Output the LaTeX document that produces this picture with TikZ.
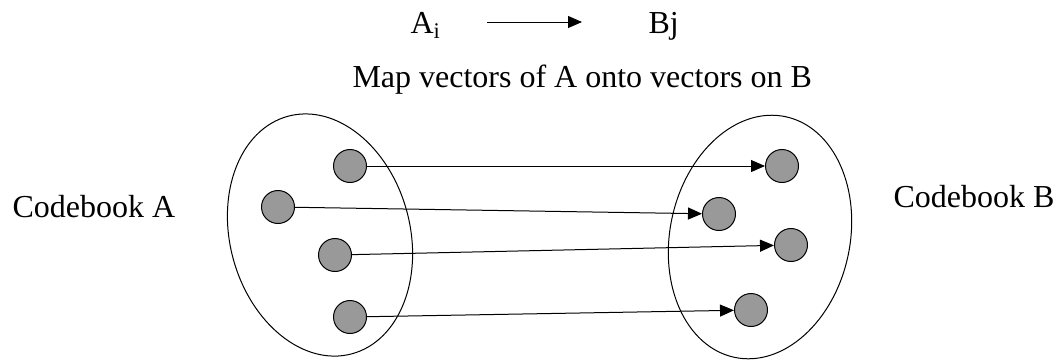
\documentclass[tikz,border=0pt]{standalone}
\usepackage{fontspec}
\setmainfont{Liberation Serif}
\usetikzlibrary{arrows.meta,shapes.geometric}

\begin{document}
\begin{tikzpicture}[x=0.5pt, y=-0.5pt, >={Triangle[length=7pt,width=6pt]}, line width=0.5pt,
    font=\fontsize{16}{19}\selectfont,
    codeword/.style={circle, draw, fill=gray!80, minimum size=16.5pt, inner sep=0pt},
    codebook/.style={ellipse, draw, minimum width=90pt, minimum height=123pt, inner sep=0pt},
    label/.style={anchor=base west, inner sep=0pt}]
    \useasboundingbox (0,0) rectangle (1059,361);

    % heading
    \node[label] (ai) at (410,33) {A\textsubscript{i}};
    \node[label] (bj) at (648,33) {Bj};
    \coordinate (head-s) at (487,22);
    \coordinate (head-e) at (582,22);
    \draw[->] (head-s) -- (head-e);
    \node[label] (title) at (352,87) {Map vectors of A onto vectors on B};

    % codebooks
    \node[codebook, rotate=15] (bookA) at (320,235) {};
    \node[codebook, rotate=-12] (bookB) at (760,237) {};
    \node[label] (nameA) at (12,217) {Codebook A};
    \node[label] (nameB) at (893,207) {Codebook B};

    % code vectors of A
    \node[codeword] (a1) at (350,166) {};
    \node[codeword] (a2) at (278,207) {};
    \node[codeword] (a3) at (335,255) {};
    \node[codeword] (a4) at (350,317) {};
    % code vectors of B
    \node[codeword] (b1) at (782,166) {};
    \node[codeword] (b2) at (719,214) {};
    \node[codeword] (b3) at (791,245) {};
    \node[codeword] (b4) at (751,310) {};

    % mapping
    \draw[->] (a1) -- (b1);
    \draw[->] (a2) -- (b2);
    \draw[->] (a3) -- (b3);
    \draw[->] (a4) -- (b4);
\end{tikzpicture}
\end{document}
